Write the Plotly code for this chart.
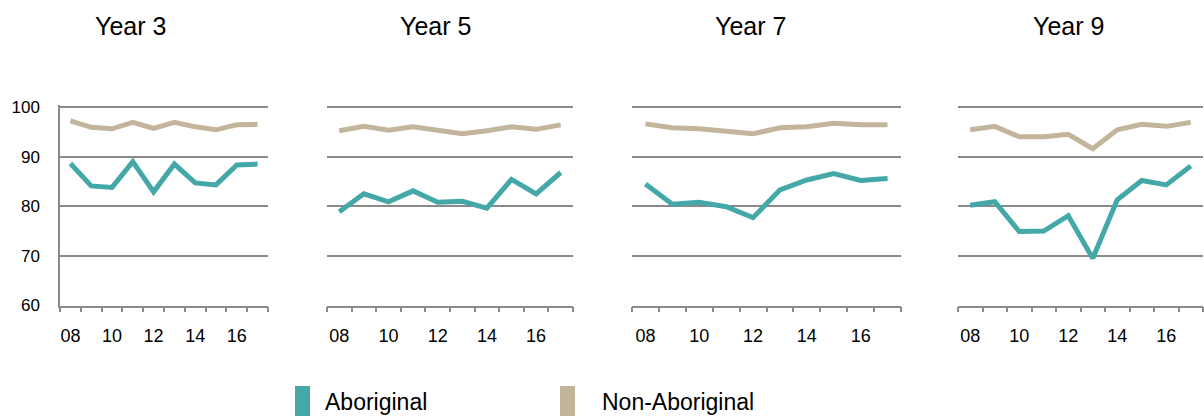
import plotly.graph_objects as go

# survey years (2008-2017), shown as two-digit labels
years = ["08", "09", "10", "11", "12", "13", "14", "15", "16", "17"]
tick_labels = ["08", "10", "12", "14", "16"]
panel_titles = ["Year 3", "Year 5", "Year 7", "Year 9"]
y_ticks = [60, 70, 80, 90, 100]

# percentages, one list per panel
aboriginal_y3 = [88.6, 84.1, 83.8, 89.0, 82.9, 88.5, 84.7, 84.3, 88.3, 88.5]
aboriginal_y5 = [78.9, 82.5, 80.9, 83.1, 80.8, 81.0, 79.6, 85.4, 82.5, 86.8]
aboriginal_y7 = [84.5, 80.4, 80.8, 79.9, 77.7, 83.3, 85.3, 86.6, 85.2, 85.6]
aboriginal_y9 = [80.2, 80.9, 74.9, 75.0, 78.1, 69.5, 81.3, 85.2, 84.3, 88.1]

non_aboriginal_y3 = [97.2, 95.9, 95.6, 96.9, 95.7, 96.9, 96.0, 95.4, 96.4, 96.5]
non_aboriginal_y5 = [95.2, 96.1, 95.3, 96.0, 95.3, 94.6, 95.2, 96.0, 95.5, 96.4]
non_aboriginal_y7 = [96.6, 95.8, 95.6, 95.0, 94.6, 95.8, 96.0, 96.7, 96.4, 96.4]
non_aboriginal_y9 = [95.4, 96.1, 94.0, 94.0, 94.5, 91.6, 95.4, 96.5, 96.1, 96.9]

aboriginal = [aboriginal_y3, aboriginal_y5, aboriginal_y7, aboriginal_y9]
non_aboriginal = [non_aboriginal_y3, non_aboriginal_y5, non_aboriginal_y7, non_aboriginal_y9]

W, H = 1204, 416
TEAL = "#45a8a8"
TAN = "#c3b59b"
GRID = "#8a8a8a"
FONT = "Liberation Sans"

# plot areas in pixels (value 100 sits at y=107, 60 at y=305.5)
panels_px = [(60, 268), (327, 573), (632, 901), (958, 1203)]
y_hi = 100.4  # a little headroom so the 100 gridline is drawn
y_bot_px = 305.5
y_top_px = 107 - (y_hi - 100) * (305.5 - 107) / 40
title_x_px = [130, 435, 750, 1068]


def px_x(v):
    return v / W


def px_y(v):
    return 1 - v / H


fig = go.Figure()
x_pos = list(range(len(years)))

for i in range(4):
    sfx = "" if i == 0 else str(i + 1)
    fig.add_trace(go.Scatter(x=x_pos, y=aboriginal[i], mode="lines", name="Aboriginal",
                             line=dict(color=TEAL, width=5), xaxis="x" + sfx, yaxis="y" + sfx))
    fig.add_trace(go.Scatter(x=x_pos, y=non_aboriginal[i], mode="lines", name="Non-Aboriginal",
                             line=dict(color=TAN, width=5), xaxis="x" + sfx, yaxis="y" + sfx))

    x0, x1 = panels_px[i]
    fig.layout["xaxis" + sfx] = dict(
        domain=[px_x(x0), px_x(x1)], anchor="y" + sfx,
        range=[-0.5, len(years) - 0.5],
        tickmode="array", tickvals=[0, 2, 4, 6, 8], ticktext=tick_labels,
        ticks="outside", ticklen=13, tickcolor="rgba(0,0,0,0)",
        minor=dict(tickmode="array", tickvals=[k - 0.5 for k in range(len(years) + 1)],
                   ticks="outside", ticklen=5, tickcolor=GRID, tickwidth=1.5),
        showline=True, linecolor=GRID, linewidth=1.5,
        showgrid=False, zeroline=False, automargin=False,
        tickfont=dict(family=FONT, size=18, color="black"),
    )
    fig.layout["yaxis" + sfx] = dict(
        domain=[px_y(y_bot_px), px_y(y_top_px)], anchor="x" + sfx,
        range=[60, y_hi], tickvals=y_ticks,
        showticklabels=(i == 0), ticklabelstandoff=15,
        showline=(i == 0), linecolor=GRID, linewidth=1.5,
        showgrid=True, gridcolor=GRID, gridwidth=1.5, zeroline=False, automargin=False,
        tickfont=dict(family=FONT, size=17, color="black"),
    )
    fig.add_annotation(x=px_x(title_x_px[i]), y=px_y(26), xref="paper", yref="paper",
                       xanchor="center", yanchor="middle",
                       text=panel_titles[i], showarrow=False,
                       font=dict(family=FONT, size=25, color="black"))

# legend drawn as coloured blocks with labels
legend_items = [("Aboriginal", TEAL, 295, 323), ("Non-Aboriginal", TAN, 560, 600)]
for label, color, sq_x, txt_x in legend_items:
    fig.add_shape(type="rect", xref="paper", yref="paper",
                  x0=px_x(sq_x), x1=px_x(sq_x + 15), y0=0, y1=px_y(386),
                  fillcolor=color, line=dict(width=0))
    fig.add_annotation(x=px_x(txt_x), y=px_y(402), xref="paper", yref="paper",
                       xanchor="left", yanchor="middle",
                       text=label, showarrow=False,
                       font=dict(family=FONT, size=23, color="black"))

fig.update_layout(
    width=W, height=H,
    margin=dict(l=0, r=0, t=0, b=0, pad=0),
    paper_bgcolor="white", plot_bgcolor="white",
    showlegend=False,
)

fig.write_html("out.html", config={"displayModeBar": False},
               post_script="document.body.style.margin='0';document.body.style.overflow='hidden';")
